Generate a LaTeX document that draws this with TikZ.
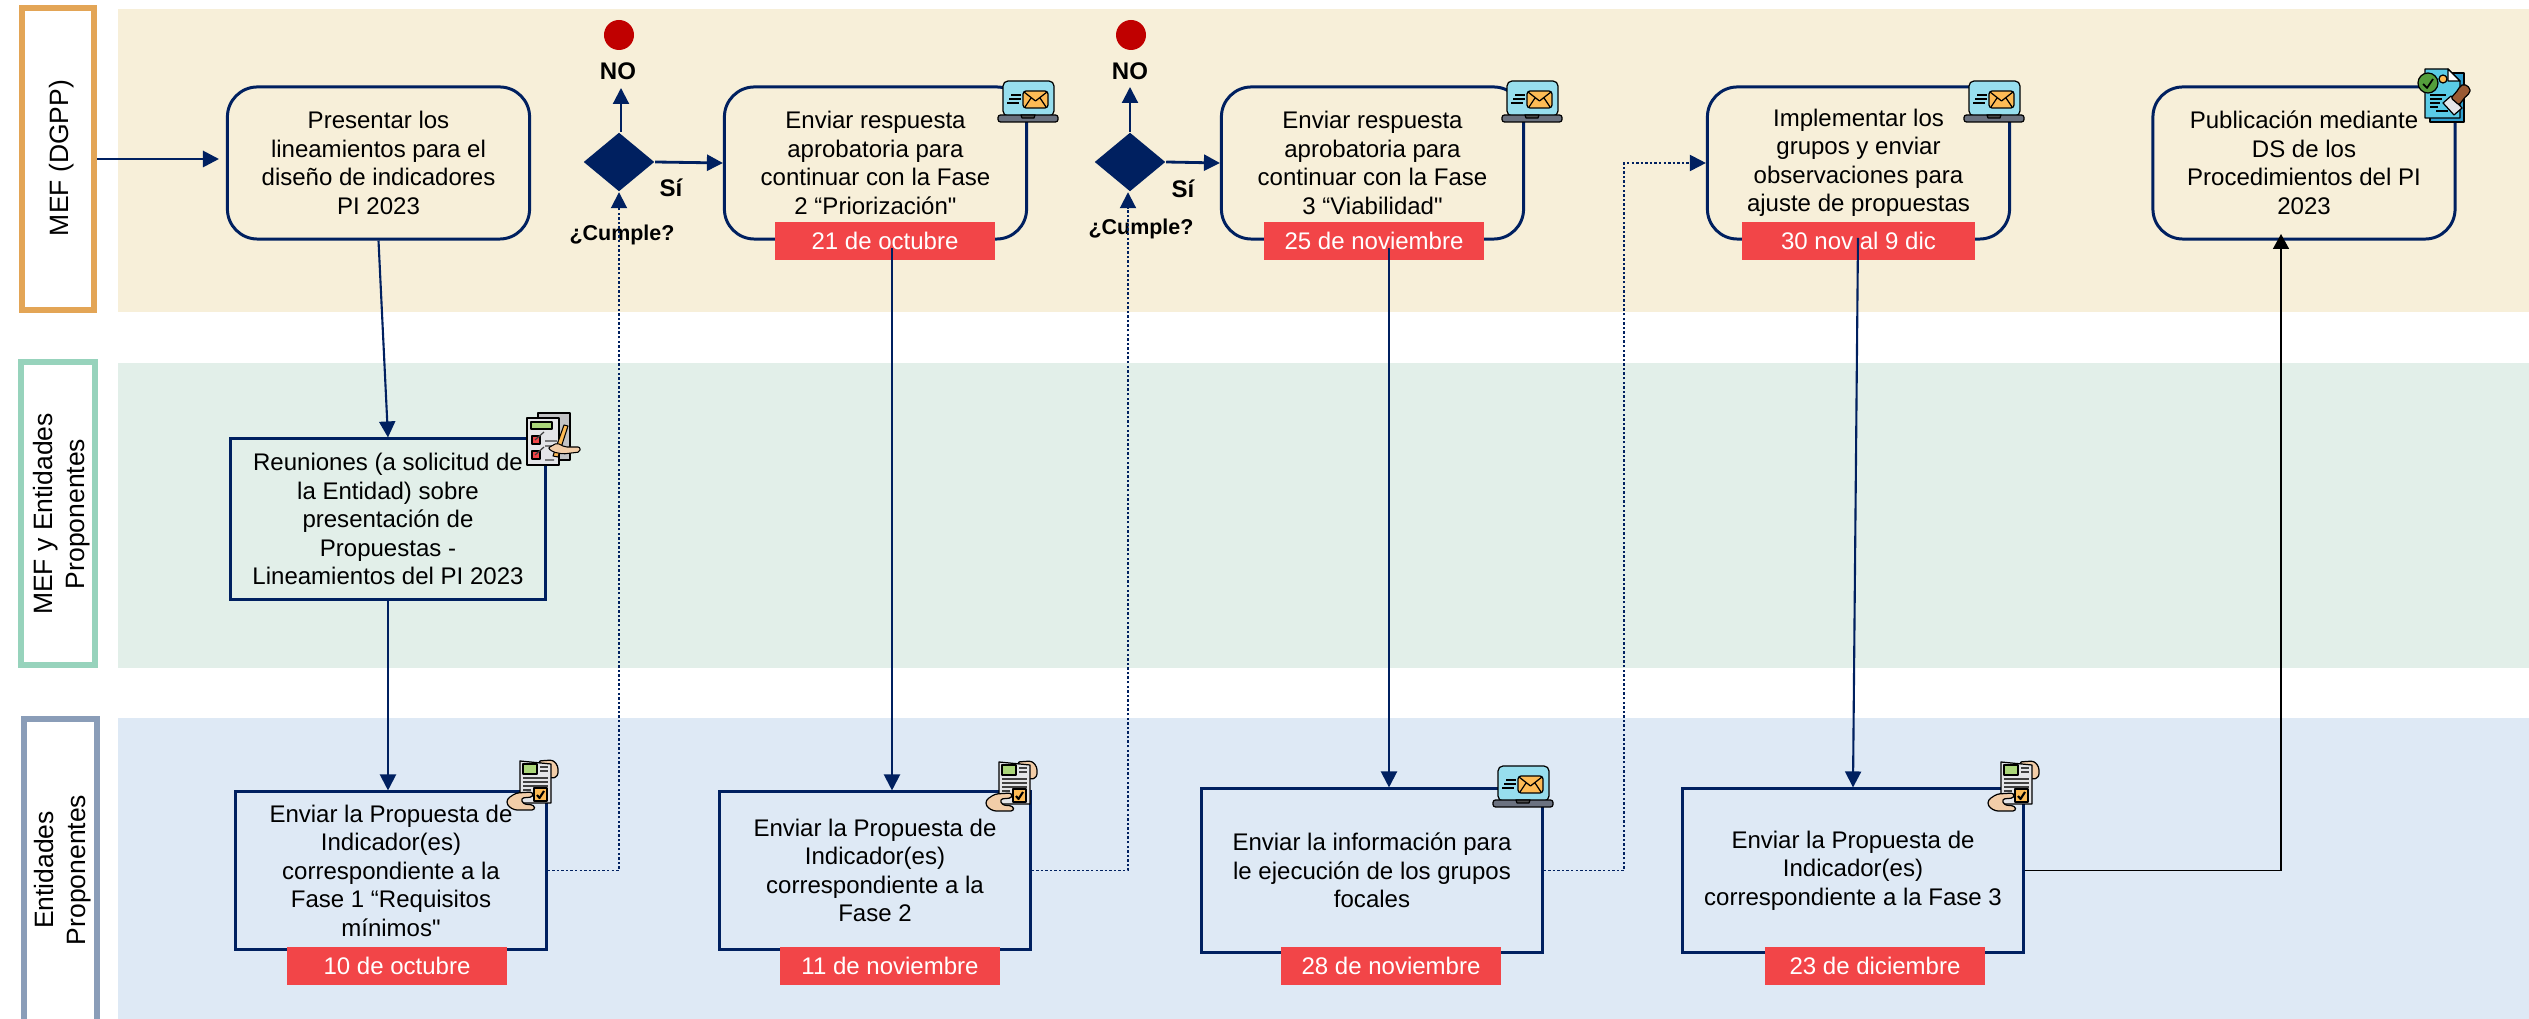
\documentclass[tikz,border=0pt]{standalone}
\usepackage{fontspec}
\setmainfont{Liberation Sans}[Ligatures=TeXOff]
\usetikzlibrary{arrows.meta,shapes.geometric,calc}
\definecolor{navy}{HTML}{002060}
\definecolor{bandA}{HTML}{F7EFD9}
\definecolor{bandB}{HTML}{E2EFE9}
\definecolor{bandC}{HTML}{DEE9F5}
\definecolor{frameA}{HTML}{E3A556}
\definecolor{frameB}{HTML}{97D3BC}
\definecolor{frameC}{HTML}{8A9DB8}
\definecolor{tagred}{HTML}{F24548}
\definecolor{dotred}{HTML}{C00000}
\definecolor{screen}{HTML}{97DEEE}
\definecolor{envel}{HTML}{FDBB55}
\definecolor{base}{HTML}{6B7280}
\definecolor{skin}{HTML}{F2CDA8}
\definecolor{paper}{HTML}{E4E5E8}
\definecolor{leaf}{HTML}{ABD67A}
\definecolor{docblue}{HTML}{5ACBE6}
\definecolor{docdark}{HTML}{2F9FD0}
\definecolor{brownst}{HTML}{9A5A33}
\tikzset{
  x=0.01cm,y=-0.01cm,
  bandbox/.style={fill=#1,draw=none,inner sep=0pt,anchor=north west},
  sz/.style 2 args={minimum width=#1,minimum height=#2,inner sep=0pt},
  hdr/.style={draw=#1,fill=white,line width=1.7pt,inner sep=0pt},
  hdrtext/.style={rotate=90,align=center,inner sep=0pt,font=\fontsize{7.54}{9.1}\selectfont},
  rbox/.style={draw=navy,line width=.85pt,rounded corners=.3cm,align=center,sz={3.02cm}{1.52cm},
    font=\fontsize{6.83}{8.1}\selectfont,execute at begin node={\rule{0pt}{5.9pt}}},
  sbox/.style={draw=navy,line width=.85pt,align=center,inner sep=0pt,
    font=\fontsize{6.83}{8.1}\selectfont},
  tag/.style={fill=tagred,text=white,sz={2.2cm}{.38cm},font=\fontsize{6.83}{8.1}\selectfont},
  lab/.style={inner sep=0pt,font=\fontsize{6.83}{8.1}\bfseries\selectfont},
  cumple/.style={inner sep=0pt,font=\fontsize{6.1}{7.3}\bfseries\selectfont},
  dia/.style={diamond,fill=navy,inner sep=0pt,aspect=1.2,minimum width=.71cm,minimum height=.59cm},
  stopdot/.style={circle,fill=dotred,inner sep=0pt,minimum size=.3cm},
  arr/.style={draw=navy,line width=.6pt,-{Triangle[length=.16cm,width=.16cm,fill=navy]}},
  arrthick/.style={draw=navy,line width=.8pt,-{Triangle[length=.16cm,width=.16cm,fill=navy]}},
  dotarr/.style={draw=navy,line width=.55pt,dash pattern=on .7pt off .6pt,
    -{Triangle[length=.16cm,width=.16cm,fill=navy]}},
  blackarr/.style={draw=black,line width=.45pt,-{Triangle[length=.15cm,width=.16cm,fill=black]}},
  ic/.style={draw=black,line width=.35pt,line join=round},
}
\newcommand{\laptopicon}[2]{%
\begin{scope}[shift={(#1,#2)}]
  \path[ic,fill=screen,rounded corners=.05cm] (5,35) -- (5,0) -- (56,0) -- (56,35) -- cycle;
  \path[ic,fill=base,rounded corners=.025cm] (0,34) -- (60,34) -- (60,41) -- (0,41) -- cycle;
  \path[ic,fill=black!70] (23,34) -- (37,34) -- (36,37) -- (24,37) -- cycle;
  \path[ic,fill=envel,rounded corners=.03cm] (25,10) -- (50,10) -- (50,27) -- (25,27) -- cycle;
  \draw[ic] (26,11) -- (37.5,20) -- (49,11) (27,26) -- (33,17) (48,26) -- (42,17);
  \draw[ic,line width=.5pt] (13,14) -- (23,14) (11,18) -- (23,18) (9,22) -- (21,22);
\end{scope}}
\newcommand{\dochandicon}[2]{%
\begin{scope}[shift={(#1,#2)}]
  \path[ic,fill=skin,rounded corners=.03cm] (31,3) -- (46,2) -- (51,8) -- (51,18) -- (44,21) -- (40,12) -- cycle;
  \path[ic,fill=paper] (13,3) -- (44,6) -- (44,45) -- (13,45) -- cycle;
  \path[ic,fill=leaf] (16,6) rectangle (30,16);
  \draw[ic,black!75] (33,9) -- (41,9) (33,13) -- (41,13) (16,20) -- (41,20) (16,24) -- (41,24) (16,28) -- (41,28) (16,32) -- (24,32);
  \path[ic,fill=envel] (27,30) rectangle (40,43);
  \draw[ic,line width=.6pt] (30,37) -- (32.5,40) -- (37,33);
  \path[ic,fill=skin,rounded corners=.03cm] (26,34) -- (9,35) -- (0,41) -- (0,47) -- (7,52) -- (28,52) -- (27,47) -- (16,46) -- (14,40) -- (26,39) -- cycle;
\end{scope}}
\newcommand{\clipicon}[2]{%
\begin{scope}[shift={(#1,#2)}]
  \path[ic,fill=paper!85!black] (11,0) rectangle (43,47);
  \path[ic,fill=paper] (0,5) rectangle (32,52);
  \path[ic,fill=leaf] (4,9) rectangle (25,16);
  \path[ic,fill=tagred] (5,23) rectangle (13,31);
  \path[ic,fill=tagred] (5,38) rectangle (13,46);
  \draw[ic,black!75] (8,27) -- (17,19) (8,42) -- (17,34) (18,28) -- (30,28) (18,33) -- (26,33) (18,47) -- (27,47);
  \path[ic,fill=envel,line width=.3pt] (26,43) -- (37,12) -- (41,13) -- (31,44) -- cycle;
  \path[fill=skin,draw=black,line width=.3pt,rounded corners=.02cm] (21,35) -- (30,30) -- (38,34) -- (53,34) -- (53,39) -- (36,41) -- (26,39) -- cycle;
\end{scope}}
\newcommand{\stampicon}[2]{%
\begin{scope}[shift={(#1,#2)}]
  \path[ic,fill=docdark] (12,4) rectangle (46,53);
  \path[ic,fill=docblue] (7,0) -- (30,0) -- (42,12) -- (42,49) -- (7,49) -- cycle;
  \path[ic,fill=white] (30,0) -- (30,12) -- (42,12) -- cycle;
  \draw[ic,line width=.5pt] (12,26) -- (28,26) (12,30) -- (24,30) (12,34) -- (22,34) (12,38) -- (20,38) (18,42) -- (30,42);
  \path[ic,fill=leaf!70!green!70!black] (10,14) circle (10);
  \draw[ic,line width=.5pt] (5,15) -- (9,19) -- (15,10);
  \path[ic,fill=envel] (25,10) circle (4);
  \path[ic,fill=paper] (25,34) -- (33,27) -- (44,39) -- (36,46) -- cycle;
  \path[ic,fill=brownst,rounded corners=.02cm] (33,29) -- (40,21) -- (42,17) -- (46,15) -- (52,19) -- (52,24) -- (48,27) -- (41,36) -- cycle;
\end{scope}}
\begin{document}
\begin{tikzpicture}
\useasboundingbox (0,0) rectangle (2529,1019);
\clip (0,0) rectangle (2529,1019);
% lanes
\node[bandbox=bandA,minimum width=24.12cm,minimum height=3.03cm] (bandone) at (117,8) {};
\node[bandbox=bandB,minimum width=24.12cm,minimum height=3.05cm] (bandtwo) at (117,362) {};
\node[bandbox=bandC,minimum width=24.12cm,minimum height=3.02cm] (bandthree) at (117,717) {};
\node[hdr=frameA,minimum height=3.02cm,minimum width=.725cm] (hdrone) at (58,159) {};
\node[hdr=frameB,minimum height=3.03cm,minimum width=.74cm] (hdrtwo) at (58,513.5) {};
\node[hdr=frameC,minimum height=3.06cm,minimum width=.73cm] (hdrthree) at (60.5,872) {};
\node[hdrtext] (hdronetext) at (62,158) {MEF (DGPP)};
\node[hdrtext] (hdrtwotext) at (62,514) {MEF y Entidades\\Proponentes};
\node[hdrtext] (hdrthreetext) at (63,870) {Entidades\\Proponentes};
% top row
\node[rbox] (ta) at (378.5,163) {Presentar los\\lineamientos para el\\diseño de indicadores\\PI 2023};
\node[rbox] (tb) at (875.5,163) {Enviar respuesta\\aprobatoria para\\continuar con la Fase\\2 “Priorización"};
\node[rbox] (tc) at (1372.5,163) {Enviar respuesta\\aprobatoria para\\continuar con la Fase\\3 “Viabilidad"};
\node[rbox] (td) at (1858.5,163) {Implementar los\\grupos y enviar\\observaciones para\\ajuste de propuestas};
\node[rbox] (te) at (2304,163) {Publicación mediante\\DS de los\\Procedimientos del PI\\2023};
\node[tag] (tagb) at (885,241) {21 de octubre};
\node[tag,minimum width=2.2cm] (tagc) at (1374,241) {25 de noviembre};
\node[tag,minimum width=2.33cm] (tagd) at (1858.5,241) {30 nov al 9 dic};
% middle
\node[sbox,minimum width=3.14cm,minimum height=1.6cm] (ma) at (388,519) {Reuniones (a solicitud de\\la Entidad) sobre\\presentación de\\Propuestas -\\Lineamientos del PI 2023};
% bottom row
\node[sbox,minimum width=3.10cm,minimum height=1.57cm] (ba) at (391,870.5) {Enviar la Propuesta de\\Indicador(es)\\correspondiente a la\\Fase 1 “Requisitos\\mínimos"};
\node[sbox,minimum width=3.10cm,minimum height=1.57cm] (bb) at (875,870.5) {Enviar la Propuesta de\\Indicador(es)\\correspondiente a la\\Fase 2};
\node[sbox,minimum width=3.40cm,minimum height=1.63cm] (bc) at (1372,870.5) {Enviar la información para\\le ejecución de los grupos\\focales};
\node[sbox,minimum width=3.40cm,minimum height=1.63cm] (bd) at (1853,870.5) {Enviar la Propuesta de\\Indicador(es)\\correspondiente a la Fase 3};
\node[tag] (taga) at (397,966) {10 de octubre};
\node[tag] (tagbb) at (890,966) {11 de noviembre};
\node[tag] (tagbc) at (1391,966) {28 de noviembre};
\node[tag] (tagbd) at (1875,966) {23 de diciembre};
% decisions
\node[dia] (da) at (619,162) {};
\node[dia] (db) at (1130,162) {};
\node[stopdot] (sa) at (619,35) {};
\node[stopdot] (sb) at (1131,35) {};
\node[lab] (noa) at (618,71) {NO};
\node[lab] (nob) at (1130,71) {NO};
\node[lab] (sia) at (671,188) {Sí};
\node[lab] (sib) at (1183,189) {Sí};
\node[cumple] (qa) at (622,235) {¿Cumple?};
\node[cumple] (qb) at (1141,229) {¿Cumple?};
% free ends
\coordinate (hdrtip) at (219,159);
\coordinate (upa) at (621,88);
\coordinate (upb) at (1130,87);
\coordinate (tba) at (892,248);
\coordinate (tca) at (1389,248);
\coordinate (tda) at (1858,238);
\coordinate (bdtip) at (2281,234);
\coordinate (elbowa) at (619,870.5);
\coordinate (elbowb) at (1128,870.5);
\coordinate (elbowc) at (1624,163);
% connectors
\draw[arrthick] (hdrone.east) -- (hdrtip);
\draw[arr] (ta.south) -- (ma.north);
\draw[arr] (ma.south) -- (ma.south |- ba.north);
\draw[arr] (upa |- da.north) -- (upa);
\draw[arr] (upb |- db.north) -- (upb);
\draw[arrthick] (da.east) -- (tb.west);
\draw[arrthick] (db.east) -- (tc.west);
\draw[dotarr] (ba.east) -- (elbowa) -- (da.south);
\draw[dotarr] (bb.east) -- (elbowb) -- (elbowb |- db.south);
\draw[dotarr] (bc.east) -- (bc.east -| elbowc) -- (elbowc) -- (td.west |- elbowc);
\draw[arr] (tba) -- (tba |- bb.north);
\draw[arr] (tca) -- (tca |- bc.north);
\draw[arr] (tda) -- (bd.north);
\draw[blackarr] (bd.east) -- (bdtip |- bd.east) -- (bdtip);
% icons
\laptopicon{998}{81}
\laptopicon{1502}{81}
\laptopicon{1964}{81}
\laptopicon{1493}{766}
\stampicon{2418}{69}
\clipicon{527}{413}
\dochandicon{507}{758}
\dochandicon{986}{759}
\dochandicon{1988}{759}
\end{tikzpicture}
\end{document}
